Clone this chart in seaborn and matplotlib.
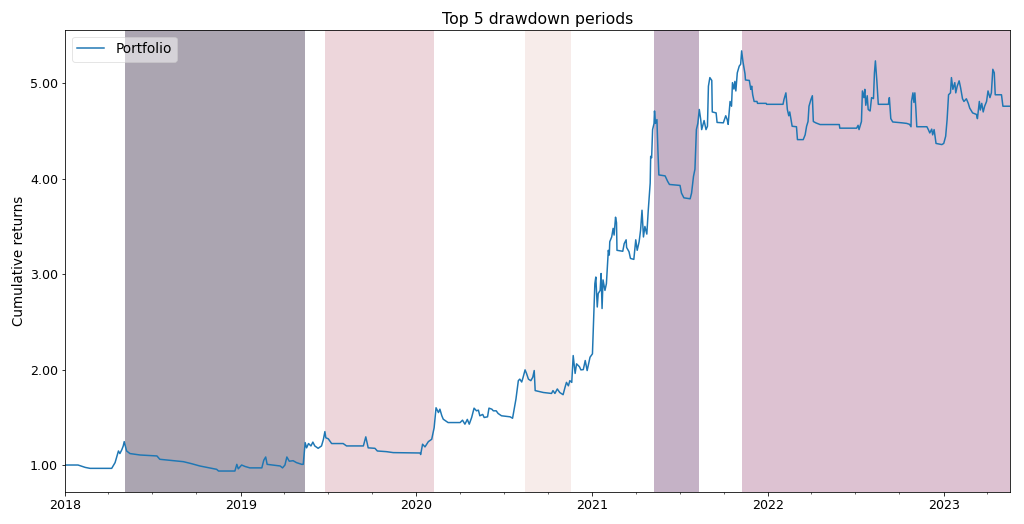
import pandas as pd
import matplotlib
matplotlib.use("Agg")
import matplotlib.pyplot as plt
import matplotlib.dates as mdates
from matplotlib.ticker import FuncFormatter
import seaborn as sns

# cumulative returns
dates = [
    "2018-01-01", "2018-01-28", "2018-02-12", "2018-02-22", "2018-04-08", "2018-04-15",
    "2018-04-22", "2018-04-25", "2018-04-29", "2018-05-02", "2018-05-04", "2018-05-09",
    "2018-05-16", "2018-06-06", "2018-07-11", "2018-07-17", "2018-09-04", "2018-09-21",
    "2018-10-08", "2018-11-12", "2018-11-16", "2018-12-20", "2018-12-24", "2018-12-27",
    "2019-01-03", "2019-01-10", "2019-01-20", "2019-02-14", "2019-02-18", "2019-02-22",
    "2019-02-25", "2019-03-24", "2019-03-29", "2019-04-03", "2019-04-07", "2019-04-12",
    "2019-04-20", "2019-04-27", "2019-05-08", "2019-05-11", "2019-05-15", "2019-05-18",
    "2019-05-22", "2019-05-27", "2019-05-31", "2019-06-04", "2019-06-11", "2019-06-18",
    "2019-06-22", "2019-06-25", "2019-06-27", "2019-07-02", "2019-07-09", "2019-08-02",
    "2019-08-09", "2019-09-13", "2019-09-18", "2019-09-23", "2019-10-07", "2019-10-12",
    "2019-10-31", "2019-11-14", "2020-01-09", "2020-01-10", "2020-01-14", "2020-01-19",
    "2020-01-26", "2020-02-02", "2020-02-07", "2020-02-11", "2020-02-16", "2020-02-19",
    "2020-02-23", "2020-02-26", "2020-03-07", "2020-04-01", "2020-04-06", "2020-04-11",
    "2020-04-16", "2020-04-20", "2020-04-25", "2020-04-30", "2020-05-05", "2020-05-09",
    "2020-05-12", "2020-05-18", "2020-05-21", "2020-05-28", "2020-05-31", "2020-06-06",
    "2020-06-09", "2020-06-15", "2020-06-19", "2020-06-26", "2020-07-14", "2020-07-19",
    "2020-07-26", "2020-07-31", "2020-08-03", "2020-08-07", "2020-08-10", "2020-08-14",
    "2020-08-17", "2020-08-21", "2020-08-26", "2020-08-30", "2020-09-02", "2020-09-04",
    "2020-09-21", "2020-10-08", "2020-10-11", "2020-10-15", "2020-10-20", "2020-10-25",
    "2020-11-01", "2020-11-05", "2020-11-08", "2020-11-12", "2020-11-15", "2020-11-19",
    "2020-11-22", "2020-11-26", "2020-11-29", "2020-12-05", "2020-12-08", "2020-12-13",
    "2020-12-17", "2020-12-21", "2020-12-27", "2021-01-01", "2021-01-04", "2021-01-06",
    "2021-01-08", "2021-01-11", "2021-01-13", "2021-01-17", "2021-01-19", "2021-01-21",
    "2021-01-23", "2021-01-27", "2021-01-30", "2021-02-03", "2021-02-05", "2021-02-06",
    "2021-02-10", "2021-02-13", "2021-02-15", "2021-02-18", "2021-02-20", "2021-02-21",
    "2021-03-05", "2021-03-08", "2021-03-12", "2021-03-13", "2021-03-18", "2021-03-21",
    "2021-03-28", "2021-04-01", "2021-04-04", "2021-04-08", "2021-04-11", "2021-04-14",
    "2021-04-17", "2021-04-20", "2021-04-24", "2021-04-27", "2021-05-01", "2021-05-02",
    "2021-05-04", "2021-05-06", "2021-05-09", "2021-05-10", "2021-05-12", "2021-05-15",
    "2021-05-17", "2021-05-19", "2021-06-01", "2021-06-06", "2021-06-10", "2021-07-02",
    "2021-07-05", "2021-07-10", "2021-07-23", "2021-07-26", "2021-07-30", "2021-08-02",
    "2021-08-05", "2021-08-08", "2021-08-11", "2021-08-14", "2021-08-16", "2021-08-21",
    "2021-08-25", "2021-08-28", "2021-08-30", "2021-09-02", "2021-09-06", "2021-09-07",
    "2021-09-15", "2021-09-17", "2021-09-30", "2021-10-05", "2021-10-08", "2021-10-10",
    "2021-10-14", "2021-10-17", "2021-10-19", "2021-10-22", "2021-10-24", "2021-10-26",
    "2021-10-29", "2021-11-02", "2021-11-05", "2021-11-07", "2021-11-10", "2021-11-14",
    "2021-11-15", "2021-11-23", "2021-11-26", "2021-11-28", "2021-11-30", "2021-12-03",
    "2021-12-09", "2021-12-10", "2021-12-28", "2021-12-29", "2022-02-01", "2022-02-03",
    "2022-02-07", "2022-02-10", "2022-02-13", "2022-02-15", "2022-02-17", "2022-02-20",
    "2022-03-01", "2022-03-03", "2022-03-15", "2022-03-19", "2022-03-22", "2022-03-25",
    "2022-03-27", "2022-03-31", "2022-04-03", "2022-04-05", "2022-04-10", "2022-04-19",
    "2022-05-29", "2022-05-30", "2022-07-04", "2022-07-07", "2022-07-09", "2022-07-14",
    "2022-07-16", "2022-07-19", "2022-07-21", "2022-07-23", "2022-07-26", "2022-07-28",
    "2022-08-01", "2022-08-04", "2022-08-08", "2022-08-10", "2022-08-12", "2022-08-15",
    "2022-08-18", "2022-09-08", "2022-09-10", "2022-09-13", "2022-09-17", "2022-10-06",
    "2022-10-16", "2022-10-22", "2022-10-25", "2022-10-26", "2022-10-29", "2022-10-31",
    "2022-11-02", "2022-11-04", "2022-11-06", "2022-11-27", "2022-11-30", "2022-12-03",
    "2022-12-07", "2022-12-09", "2022-12-12", "2022-12-16", "2022-12-28", "2023-01-01",
    "2023-01-05", "2023-01-08", "2023-01-11", "2023-01-15", "2023-01-17", "2023-01-20",
    "2023-01-24", "2023-01-26", "2023-01-29", "2023-02-02", "2023-02-05", "2023-02-09",
    "2023-02-12", "2023-02-17", "2023-02-21", "2023-02-24", "2023-03-02", "2023-03-10",
    "2023-03-12", "2023-03-16", "2023-03-18", "2023-03-21", "2023-03-24", "2023-03-27",
    "2023-03-31", "2023-04-03", "2023-04-07", "2023-04-10", "2023-04-13", "2023-04-16",
    "2023-04-18", "2023-05-01", "2023-05-04", "2023-05-18",
]
cum_returns = [
    1.00, 1.00, 0.975, 0.965, 0.965, 1.025,
    1.147, 1.12, 1.16, 1.20, 1.245, 1.147,
    1.12, 1.105, 1.095, 1.06, 1.035, 1.014,
    0.99, 0.955, 0.937, 0.937, 1.007, 0.96,
    1.00, 0.985, 0.97, 0.97, 1.05, 1.084,
    1.007, 0.99, 0.97, 1.00, 1.084, 1.04,
    1.045, 1.025, 1.007, 1.007, 1.235, 1.18,
    1.225, 1.20, 1.24, 1.20, 1.175, 1.20,
    1.27, 1.35, 1.285, 1.275, 1.225, 1.225,
    1.20, 1.20, 1.295, 1.18, 1.175, 1.147,
    1.14, 1.13, 1.126, 1.11, 1.218, 1.19,
    1.245, 1.27, 1.39, 1.60, 1.55, 1.585,
    1.516, 1.48, 1.445, 1.445, 1.47, 1.428,
    1.478, 1.428, 1.498, 1.596, 1.568, 1.575,
    1.516, 1.53, 1.498, 1.505, 1.596, 1.585,
    1.568, 1.568, 1.54, 1.516, 1.505, 1.49,
    1.69, 1.884, 1.90, 1.87, 1.92, 1.997,
    1.96, 1.90, 1.884, 1.92, 1.99, 1.78,
    1.76, 1.75, 1.78, 1.75, 1.797, 1.76,
    1.737, 1.814, 1.866, 1.83, 1.884, 1.866,
    2.147, 1.96, 2.06, 2.03, 1.997, 2.0,
    2.095, 1.99, 2.13, 2.165, 2.62, 2.90,
    2.97, 2.656, 2.797, 2.83, 3.007, 2.64,
    2.94, 2.83, 2.90, 3.25, 3.20, 3.34,
    3.39, 3.48, 3.41, 3.597, 3.54, 3.25,
    3.24, 3.32, 3.36, 3.28, 3.235, 3.165,
    3.155, 3.36, 3.25, 3.34, 3.46, 3.67,
    3.39, 3.50, 3.42, 3.67, 3.955, 4.235,
    4.22, 4.515, 4.58, 4.71, 4.58, 4.62,
    4.305, 4.04, 4.03, 3.975, 3.94, 3.93,
    3.85, 3.80, 3.79, 3.85, 4.025, 4.10,
    4.515, 4.58, 4.726, 4.62, 4.515, 4.61,
    4.515, 4.55, 4.97, 5.06, 5.03, 4.70,
    4.69, 4.59, 4.586, 4.66, 4.62, 4.57,
    4.81, 4.76, 5.007, 4.94, 5.02, 4.92,
    5.11, 5.18, 5.20, 5.34, 5.22, 5.10,
    5.035, 5.03, 4.937, 4.97, 4.88, 4.81,
    4.81, 4.79, 4.79, 4.78, 4.78, 4.83,
    4.90, 4.726, 4.66, 4.70, 4.64, 4.55,
    4.545, 4.41, 4.41, 4.46, 4.55, 4.60,
    4.76, 4.83, 4.87, 4.60, 4.586, 4.568,
    4.568, 4.53, 4.53, 4.56, 4.515, 4.60,
    4.92, 4.85, 4.937, 4.77, 4.87, 4.726,
    4.71, 4.85, 4.84, 5.11, 5.235, 5.026,
    4.78, 4.78, 4.85, 4.63, 4.595, 4.586,
    4.58, 4.57, 4.545, 4.81, 4.90, 4.80,
    4.90, 4.74, 4.545, 4.545, 4.515, 4.48,
    4.52, 4.46, 4.515, 4.37, 4.358, 4.37,
    4.445, 4.62, 4.88, 4.90, 5.06, 4.937,
    5.007, 4.90, 4.97, 5.026, 4.955, 4.838,
    4.81, 4.838, 4.79, 4.74, 4.69, 4.674,
    4.63, 4.81, 4.72, 4.79, 4.70, 4.76,
    4.81, 4.92, 4.85, 4.90, 5.147, 5.11,
    4.88, 4.88, 4.76, 4.76,
]

# top 5 drawdowns, ordered by depth (peak date, recovery date)
dd_peaks = ["2018-05-05", "2021-05-08", "2021-11-07", "2019-06-26", "2020-08-13"]
dd_recoveries = ["2019-05-14", "2021-08-11", "2023-05-18", "2020-02-06", "2020-11-18"]

df = pd.DataFrame({"date": pd.to_datetime(dates), "returns": cum_returns})

fig, ax = plt.subplots(figsize=(1024 / 72, 524 / 72), dpi=72)
fig.subplots_adjust(left=0.0635, right=0.986, top=0.943, bottom=0.061)

sns.lineplot(data=df, x="date", y="returns", ax=ax, color="#1f77b4",
             linewidth=1.5, label="Portfolio")

colors = sns.cubehelix_palette(len(dd_peaks))[::-1]
for i, (peak, recovery) in enumerate(zip(dd_peaks, dd_recoveries)):
    ax.axvspan(pd.Timestamp(peak), pd.Timestamp(recovery),
               alpha=0.4, color=colors[i], lw=0, zorder=0)

ax.set_xlim(df["date"].iloc[0], df["date"].iloc[-1])
ax.xaxis.set_major_locator(mdates.YearLocator())
ax.xaxis.set_major_formatter(mdates.DateFormatter("%Y"))
ax.xaxis.set_minor_locator(mdates.MonthLocator(bymonth=[4, 7, 10]))
ax.yaxis.set_major_formatter(FuncFormatter(lambda y, _: "{:.2f}".format(y)))
ax.tick_params(labelsize=12.6)

ax.set_title("Top 5 drawdown periods", fontsize=15.8)
ax.set_ylabel("Cumulative returns", fontsize=13.5)
ax.set_xlabel("")
ax.legend(loc="upper left", frameon=True, framealpha=0.5, fontsize=13.6)

fig.savefig("out.png", dpi=72)
